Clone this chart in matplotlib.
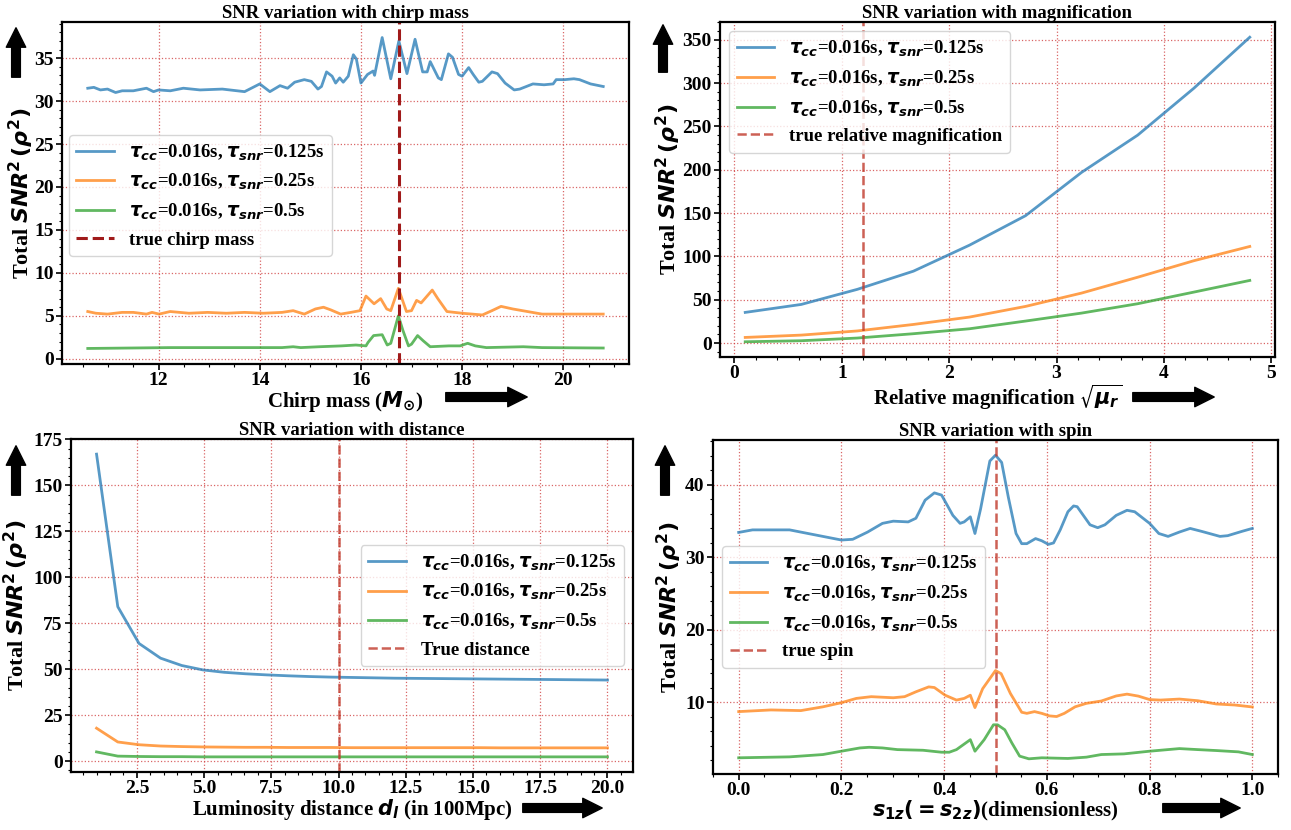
import matplotlib
matplotlib.use("Agg")
import matplotlib.pyplot as plt
from matplotlib.ticker import AutoMinorLocator

plt.rcParams['font.family'] = ['Liberation Serif', 'DejaVu Serif']
plt.rcParams['font.weight'] = 'bold'
plt.rcParams['mathtext.fontset'] = 'dejavusans'

# ---------------- data ----------------
# Chirp mass panel
cm_blue_x = [10.60, 10.72, 10.85, 10.99, 11.15, 11.28, 11.50, 11.76, 11.90, 12.00, 12.23, 12.49, 12.82, 13.26,
             13.70, 14.00, 14.20, 14.40, 14.55, 14.69, 14.88, 15.02, 15.15, 15.22, 15.32, 15.43, 15.50, 15.58,
             15.65, 15.75, 15.85, 15.91, 16.00, 16.13, 16.24, 16.27, 16.42, 16.59, 16.75, 16.91, 17.07, 17.22,
             17.31, 17.37, 17.53, 17.59, 17.73, 17.81, 17.93, 18.00, 18.13, 18.22, 18.33, 18.40, 18.59, 18.70,
             18.85, 19.03, 19.14, 19.40, 19.62, 19.80, 19.86, 20.03, 20.21, 20.32, 20.54, 20.79]
cm_blue_y = [31.5, 31.6, 31.3, 31.4, 31.0, 31.2, 31.2, 31.5, 31.1, 31.3, 31.2, 31.5, 31.3, 31.4,
             31.1, 32.0, 31.1, 31.8, 31.5, 32.2, 32.5, 32.3, 31.4, 31.7, 33.4, 32.9, 32.1, 32.7,
             32.2, 32.9, 35.4, 34.9, 32.1, 33.1, 33.5, 33.0, 37.4, 32.6, 37.0, 33.2, 37.2, 33.4,
             33.4, 34.6, 32.7, 32.5, 35.5, 35.1, 33.1, 32.9, 33.9, 33.1, 32.2, 32.3, 33.4, 33.2,
             32.1, 31.3, 31.4, 32.0, 31.9, 32.0, 32.5, 32.5, 32.6, 32.5, 32.0, 31.7]
cm_orange_x = [10.60, 10.76, 10.99, 11.28, 11.50, 11.76, 11.87, 12.01, 12.23, 12.60, 12.97, 13.34, 13.70, 14.07,
               14.44, 14.66, 14.88, 15.10, 15.26, 15.40, 15.60, 15.80, 15.98, 16.10, 16.26, 16.39, 16.51, 16.59,
               16.74, 16.90, 17.00, 17.10, 17.19, 17.41, 17.52, 17.70, 18.00, 18.40, 18.59, 18.77, 19.00, 19.29,
               19.58, 20.30, 20.79]
cm_orange_y = [5.5, 5.3, 5.2, 5.4, 5.4, 5.2, 5.4, 5.2, 5.5, 5.3, 5.4, 5.3, 5.4, 5.3,
               5.4, 5.6, 5.2, 5.8, 6.0, 5.7, 5.2, 5.4, 5.6, 7.3, 6.4, 7.0, 5.8, 5.6,
               8.2, 5.5, 5.6, 6.8, 6.5, 8.0, 7.0, 5.5, 5.3, 5.1, 5.6, 6.1, 5.8, 5.5,
               5.2, 5.2, 5.2]
cm_green_x = [10.60, 12.23, 14.44, 14.66, 14.81, 15.18, 15.62, 15.90, 16.10, 16.14, 16.25, 16.42, 16.52, 16.59,
              16.74, 16.83, 16.94, 17.00, 17.12, 17.23, 17.37, 17.74, 17.96, 18.11, 18.26, 18.48, 19.21, 19.58,
              20.79]
cm_green_y = [1.2, 1.3, 1.3, 1.4, 1.3, 1.4, 1.5, 1.6, 1.5, 1.9, 2.7, 2.8, 1.6, 1.8,
              5.0, 3.3, 1.5, 1.7, 2.7, 2.1, 1.4, 1.5, 1.5, 1.8, 1.5, 1.3, 1.4, 1.3,
              1.25]
true_chirp_mass = 16.75

# Magnification panel
mag_x = [0.100, 0.622, 1.144, 1.667, 2.189, 2.711, 3.233, 3.756, 4.278, 4.800]
mag_blue = [35.4, 44.6, 62.0, 83.0, 113.0, 147.0, 197.0, 240.0, 294.0, 353.0]
mag_orange = [6.5, 9.2, 14.0, 21.5, 30.0, 42.3, 57.7, 76.0, 95.0, 111.5]
mag_green = [1.5, 2.7, 5.8, 10.8, 16.5, 25.4, 34.6, 45.4, 58.8, 72.3]
true_mag = 1.2

# Distance panel
dist_x = [1.00, 1.79, 2.58, 3.38, 4.17, 4.96, 5.75, 6.54, 7.33, 8.13, 8.92, 9.71, 10.50,
          11.29, 12.08, 12.88, 13.67, 14.46, 15.25, 16.04, 16.83, 17.63, 18.42, 19.21, 20.00]
dist_blue = [167.0, 84.0, 64.0, 56.0, 52.0, 49.6, 48.3, 47.5, 46.9, 46.4, 46.0, 45.7, 45.5,
             45.3, 45.1, 45.0, 44.9, 44.8, 44.7, 44.6, 44.5, 44.4, 44.3, 44.2, 44.1]
dist_orange = [17.9, 10.4, 8.9, 8.2, 7.9, 7.7, 7.6, 7.5, 7.5, 7.4, 7.4, 7.4, 7.3,
               7.3, 7.3, 7.3, 7.3, 7.3, 7.3, 7.2, 7.2, 7.2, 7.2, 7.2, 7.2]
dist_green = [5.0, 2.7, 2.5, 2.4, 2.4, 2.3, 2.3, 2.3, 2.3, 2.3, 2.3, 2.3, 2.3,
              2.3, 2.3, 2.3, 2.3, 2.3, 2.3, 2.3, 2.3, 2.3, 2.3, 2.3, 2.3]
true_dist = 10.0

# Spin panel
sp_blue_x = [0.000, 0.027, 0.099, 0.135, 0.200, 0.222, 0.251, 0.280, 0.301, 0.330, 0.345, 0.363, 0.381, 0.395,
             0.417, 0.431, 0.439, 0.451, 0.460, 0.471, 0.489, 0.500, 0.512, 0.525, 0.540, 0.551, 0.561, 0.578,
             0.590, 0.603, 0.613, 0.626, 0.641, 0.652, 0.659, 0.684, 0.699, 0.713, 0.735, 0.756, 0.771, 0.800,
             0.818, 0.836, 0.858, 0.879, 0.901, 0.937, 0.952, 0.980, 1.000]
sp_blue_y = [33.45, 33.8, 33.8, 33.3, 32.4, 32.5, 33.5, 34.7, 35.0, 34.9, 35.4, 37.9, 38.9, 38.6,
             35.8, 34.7, 34.9, 35.6, 33.3, 36.7, 43.3, 44.1, 43.1, 38.3, 33.3, 31.9, 31.9, 32.6,
             32.3, 31.8, 32.0, 33.8, 36.3, 37.1, 37.0, 34.5, 34.1, 34.5, 35.8, 36.5, 36.3, 34.7,
             33.3, 32.9, 33.5, 34.0, 33.6, 32.9, 33.0, 33.6, 34.0]
sp_orange_x = [0.000, 0.063, 0.121, 0.164, 0.200, 0.229, 0.258, 0.301, 0.323, 0.345, 0.370, 0.381, 0.402, 0.424,
               0.439, 0.451, 0.460, 0.475, 0.500, 0.511, 0.529, 0.551, 0.561, 0.576, 0.590, 0.605, 0.619, 0.634,
               0.655, 0.677, 0.706, 0.735, 0.756, 0.778, 0.800, 0.821, 0.858, 0.894, 0.930, 0.966, 1.000]
sp_orange_y = [8.74, 8.97, 8.88, 9.4, 9.97, 10.56, 10.8, 10.65, 10.8, 11.47, 12.15, 12.06, 11.0, 10.33,
               10.56, 11.0, 9.29, 11.9, 14.4, 13.97, 11.24, 8.65, 8.5, 8.74, 8.5, 8.15, 8.06, 8.5,
               9.4, 9.88, 10.2, 10.9, 11.15, 10.88, 10.4, 10.33, 10.47, 10.24, 9.79, 9.65, 9.38]
sp_green_x = [0.000, 0.099, 0.164, 0.200, 0.236, 0.254, 0.280, 0.309, 0.359, 0.395, 0.410, 0.424, 0.451, 0.460,
              0.478, 0.496, 0.504, 0.518, 0.532, 0.547, 0.565, 0.590, 0.641, 0.677, 0.706, 0.750, 0.800, 0.858,
              0.894, 0.930, 0.973, 1.000]
sp_green_y = [2.37, 2.5, 2.82, 3.28, 3.73, 3.82, 3.73, 3.5, 3.41, 3.14, 3.14, 3.5, 4.87, 3.28,
              4.87, 6.92, 6.92, 6.24, 4.4, 2.6, 2.23, 2.37, 2.28, 2.46, 2.82, 2.91, 3.28, 3.64,
              3.5, 3.37, 3.19, 2.82]
true_spin = 0.5

labels = [r"$\boldsymbol{\tau_{cc}}$=0.016s, $\boldsymbol{\tau_{snr}}$=0.125s",
          r"$\boldsymbol{\tau_{cc}}$=0.016s, $\boldsymbol{\tau_{snr}}$=0.25s",
          r"$\boldsymbol{\tau_{cc}}$=0.016s, $\boldsymbol{\tau_{snr}}$=0.5s"]
colors = ['#1f77b4', '#ff7f0e', '#2ca02c']

W, H = 1291, 830
fig = plt.figure(figsize=(W / 100, H / 100), dpi=100)


def add_ax(l, r, t, b):
    return fig.add_axes([l / W, 1 - b / H, (r - l) / W, (b - t) / H])


ax1 = add_ax(62, 629, 22, 364)
ax2 = add_ax(720, 1275, 22, 357)
ax3 = add_ax(71, 633, 439, 772)
ax4 = add_ax(713, 1278, 440, 774)

ylabel = r"Total $\boldsymbol{SNR}^2\,(\rho^2)$"


def style(ax, title, xlabel, ylab_x):
    ax.set_title(title, fontsize=13.5, fontweight='bold', pad=3)
    ax.grid(True, which='major', color='#d04040', linestyle=':', linewidth=0.9, alpha=0.8)
    ax.xaxis.set_minor_locator(AutoMinorLocator())
    ax.yaxis.set_minor_locator(AutoMinorLocator())
    ax.tick_params(which='major', direction='out', length=4, width=1.2, labelsize=14, pad=2)
    ax.tick_params(which='minor', direction='out', length=2.5, width=0.8)
    for lab in ax.get_xticklabels() + ax.get_yticklabels():
        lab.set_fontweight('bold')
    for s in ax.spines.values():
        s.set_linewidth(1.6)
    ax.set_xlabel(xlabel, fontsize=15, fontweight='bold', labelpad=0)
    ax.set_ylabel(ylabel, fontsize=16, fontweight='bold')
    ax.yaxis.set_label_coords(ylab_x, 0.5)


def arrow(x0, y0, x1, y1):
    fig.patches.append(matplotlib.patches.FancyArrowPatch(
        (x0 / W, 1 - y0 / H), (x1 / W, 1 - y1 / H), transform=fig.transFigure,
        arrowstyle='simple,head_width=1.0,head_length=1.0,tail_width=0.45', mutation_scale=14,
        color='black'))


# Panel 1
for xs, ys, c, lb in zip([cm_blue_x, cm_orange_x, cm_green_x], [cm_blue_y, cm_orange_y, cm_green_y], colors, labels):
    ax1.plot(xs, ys, color=c, lw=2, alpha=0.75, label=lb)
ax1.axvline(true_chirp_mass, color='#a01a1a', ls='--', lw=2.2, label='true chirp mass')
style(ax1, 'SNR variation with chirp mass', r"Chirp mass ($\boldsymbol{M_{\odot}}$)", (36 - 62) / 567)
ax1.legend(loc='upper left', bbox_to_anchor=(0.012, 0.67), fontsize=13.5, borderaxespad=0)

# Panel 2
for ys, c, lb in zip([mag_blue, mag_orange, mag_green], colors, labels):
    ax2.plot(mag_x, ys, color=c, lw=2, alpha=0.75, label=lb)
ax2.axvline(true_mag, color='#c0392b', ls='--', lw=1.8, alpha=0.8, label='true relative magnification')
style(ax2, 'SNR variation with magnification', r"Relative magnification $\sqrt{\boldsymbol{\mu_r}}$",
      (683 - 720) / 555)
ax2.legend(loc='upper left', fontsize=13.5)

# Panel 3
for ys, c, lb in zip([dist_blue, dist_orange, dist_green], colors, labels):
    ax3.plot(dist_x, ys, color=c, lw=2, alpha=0.75, label=lb)
ax3.axvline(true_dist, color='#c0392b', ls='--', lw=1.8, alpha=0.8, label='True distance')
style(ax3, 'SNR variation with distance', r"Luminosity distance $\boldsymbol{d_l}$ (in 100Mpc)",
      (31 - 71) / 562)
ax3.legend(loc='center right', fontsize=13.5)

# Panel 4
for xs, ys, c, lb in zip([sp_blue_x, sp_orange_x, sp_green_x], [sp_blue_y, sp_orange_y, sp_green_y], colors, labels):
    ax4.plot(xs, ys, color=c, lw=2, alpha=0.75, label=lb)
ax4.axvline(true_spin, color='#c0392b', ls='--', lw=1.8, alpha=0.8, label='true spin')
style(ax4, 'SNR variation with spin', r"$\boldsymbol{s_{1z}}(=\boldsymbol{s_{2z}})$(dimensionless)",
      (684 - 713) / 565)
ax4.legend(loc='center left', fontsize=13.5)

# Arrows (x-label arrows to the right, y-label arrows pointing up)
arrow(443, 397, 530, 397)
arrow(1130, 397, 1217, 397)
arrow(520, 808, 605, 808)
arrow(1160, 808, 1243, 808)
arrow(16, 80, 16, 25)
arrow(663, 75, 663, 22)
arrow(16, 498, 16, 443)
arrow(665, 498, 665, 443)

fig.savefig('out.png', dpi=100)
